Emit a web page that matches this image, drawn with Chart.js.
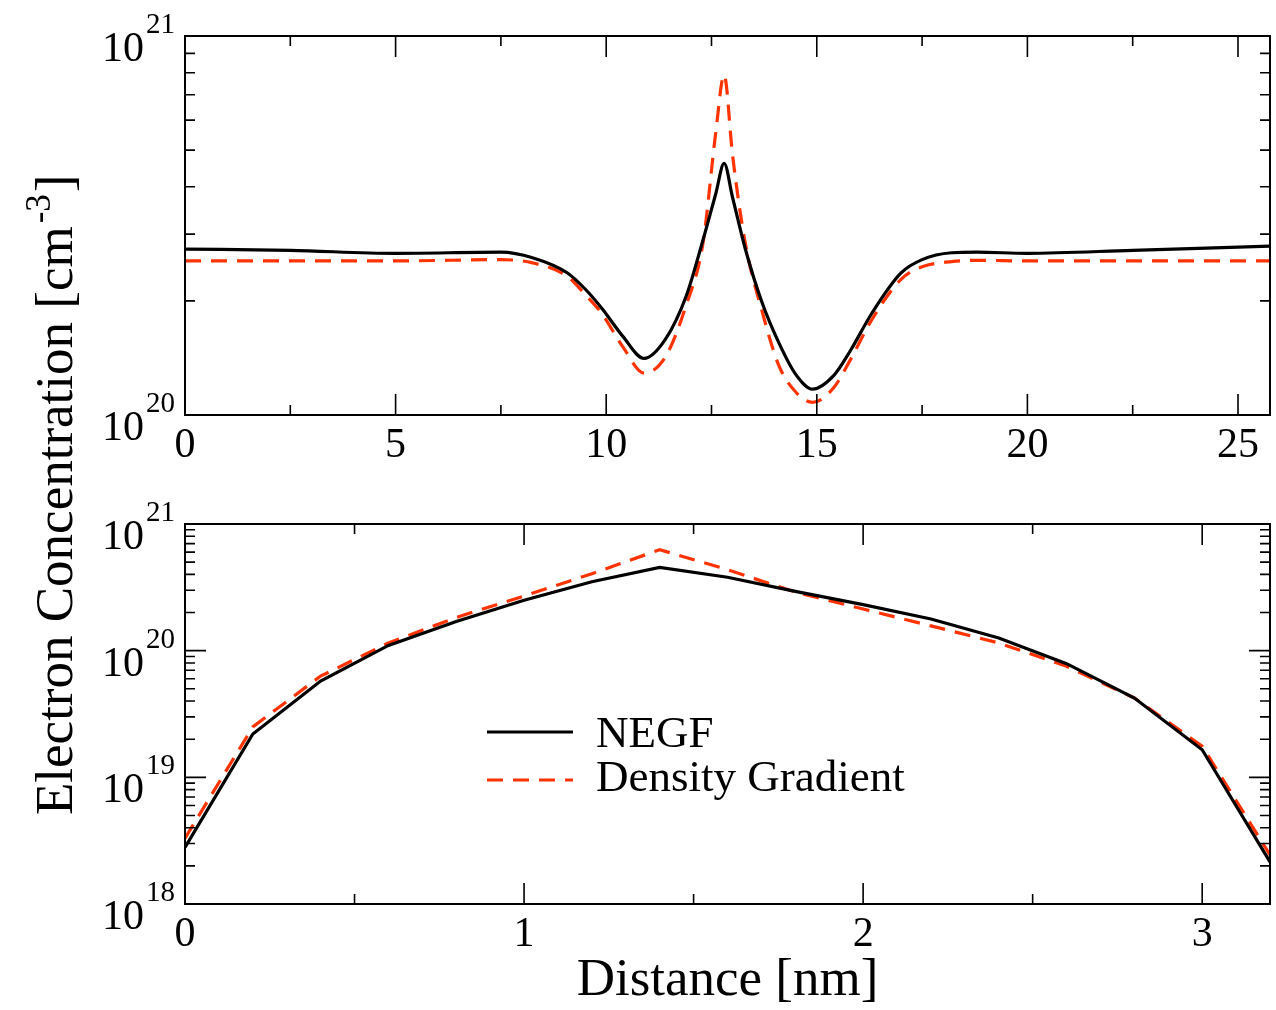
<!DOCTYPE html>
<html>
<head>
<meta charset="utf-8">
<script src="https://cdn.jsdelivr.net/npm/chart.js@4.4.1/dist/chart.umd.min.js"></script>
<style>
  html, body { margin: 0; padding: 0; background: #fff; }
  #wrap { position: relative; width: 1276px; height: 1010px; }
  canvas { position: absolute; left: 0; top: 0; }
</style>
</head>
<body>
<div id="wrap">
  <canvas id="topChart" width="1276" height="1010"></canvas>
  <canvas id="bottomChart" width="1276" height="1010"></canvas>
</div>
<script>
// Top panel: long channel, distance in nm
const topDistance = [0, 2.5, 5, 7.5, 8.25, 9.08, 9.5, 9.9, 10.4, 10.9, 11.4, 11.9, 12.3, 12.6, 12.8, 13.0,
  13.3, 13.7, 14.1, 14.5, 14.9, 15.4, 15.8, 16.3, 17.0, 17.5, 18.2, 18.8, 20, 22.5, 25.76];
const topNegf = [2.74e20, 2.72e20, 2.67e20, 2.69e20, 2.60e20, 2.37e20, 2.15e20, 1.91e20, 1.61e20, 1.41e20,
  1.58e20, 2.06e20, 2.9e20, 3.83e20, 4.61e20, 3.75e20, 2.75e20, 1.98e20, 1.55e20, 1.28e20, 1.17e20,
  1.27e20, 1.48e20, 1.85e20, 2.37e20, 2.57e20, 2.68e20, 2.69e20, 2.67e20, 2.72e20, 2.79e20];
const topDg = [2.55e20, 2.55e20, 2.55e20, 2.57e20, 2.52e20, 2.32e20, 2.08e20, 1.85e20, 1.51e20, 1.29e20,
  1.42e20, 1.95e20, 2.85e20, 5.55e20, 7.89e20, 4.85e20, 2.85e20, 1.88e20, 1.35e20, 1.15e20, 1.08e20,
  1.18e20, 1.40e20, 1.78e20, 2.28e20, 2.46e20, 2.54e20, 2.56e20, 2.55e20, 2.55e20, 2.55e20];

// Bottom panel: cross section
const bottomDistance = [0, 0.2, 0.4, 0.6, 0.8, 1.0, 1.2, 1.4, 1.6, 1.8, 2.0, 2.2, 2.4, 2.6, 2.8, 3.0, 3.2];
const bottomNegf = [2.8e18, 2.2e19, 5.75e19, 1.1e20, 1.7e20, 2.5e20, 3.5e20, 4.55e20, 3.8e20, 2.94e20,
  2.31e20, 1.78e20, 1.26e20, 7.9e19, 4.23e19, 1.65e19, 2.15e18];
const bottomDg = [3.3e18, 2.5e19, 6.3e19, 1.15e20, 1.83e20, 2.7e20, 4.05e20, 6.27e20, 4.36e20, 2.9e20,
  2.13e20, 1.57e20, 1.15e20, 7.52e19, 4.23e19, 1.76e19, 2.44e18];

// Tick labels
const topXTicks = [0, 5, 10, 15, 20, 25];
const topXMinor = [2.5, 7.5, 12.5, 17.5, 22.5];
const topYExp = [20, 21];
const bottomXTicks = [0, 1, 2, 3];
const bottomXMinor = [0.5, 1.5, 2.5];
const bottomYExp = [18, 19, 20, 21];

const seriesNames = ["NEGF", "Density Gradient"];
const red = "#ff3300";
const serif = '"Liberation Serif", "Times New Roman", serif';

const toPoints = (xs, ys) => xs.map((x, i) => ({ x: x, y: ys[i] }));

// frame, inward ticks and 10^n labels
const framePlugin = {
  id: "frame",
  afterDatasetsDraw(chart, args, opts) {
    const { ctx, chartArea: a } = chart;
    const x = chart.scales.x, y = chart.scales.y;
    ctx.save();
    ctx.strokeStyle = "#000";
    ctx.lineWidth = 2;
    ctx.strokeRect(a.left, a.top, a.right - a.left, a.bottom - a.top);

    ctx.lineWidth = 1.6;
    ctx.beginPath();
    const vTick = (v, len) => {
      const p = x.getPixelForValue(v);
      ctx.moveTo(p, a.bottom); ctx.lineTo(p, a.bottom - len);
      ctx.moveTo(p, a.top); ctx.lineTo(p, a.top + len);
    };
    const hTick = (v, len) => {
      const p = y.getPixelForValue(v);
      ctx.moveTo(a.left, p); ctx.lineTo(a.left + len, p);
      ctx.moveTo(a.right, p); ctx.lineTo(a.right - len, p);
    };
    opts.xMajor.forEach(v => vTick(v, 21));
    opts.xMinor.forEach(v => vTick(v, 10));
    opts.yExp.forEach(e => hTick(Math.pow(10, e), 21));
    for (let e = opts.yExp[0]; e < opts.yExp[opts.yExp.length - 1]; e++) {
      for (let m = 2; m < 10; m++) hTick(m * Math.pow(10, e), 10);
    }
    ctx.stroke();

    ctx.fillStyle = "#000";
    ctx.textBaseline = "alphabetic";
    ctx.textAlign = "center";
    ctx.font = "42px " + serif;
    opts.xMajor.forEach(v => ctx.fillText(String(v), x.getPixelForValue(v), a.bottom + 42));

    ctx.textAlign = "right";
    opts.yExp.forEach(e => {
      const p = y.getPixelForValue(Math.pow(10, e));
      ctx.font = "29px " + serif;
      const sup = String(e);
      const sw = ctx.measureText(sup).width;
      ctx.fillText(sup, a.left - 10, p - 3);
      ctx.font = "42px " + serif;
      ctx.fillText("10", a.left - 12 - sw, p + 25);
    });
    ctx.restore();
  }
};

// axis titles and legend for the whole figure
const titlePlugin = {
  id: "titles",
  afterDraw(chart) {
    const ctx = chart.ctx;
    ctx.save();
    ctx.fillStyle = "#000";
    ctx.textBaseline = "alphabetic";

    ctx.textAlign = "center";
    ctx.font = "53px " + serif;
    ctx.fillText("Distance [nm]", (chart.chartArea.left + chart.chartArea.right) / 2, 995);

    ctx.save();
    ctx.translate(72, 815);
    ctx.rotate(-Math.PI / 2);
    ctx.textAlign = "left";
    ctx.font = "53px " + serif;
    const main = "Electron Concentration [cm";
    let w = ctx.measureText(main).width;
    ctx.fillText(main, 0, 0);
    ctx.font = "35px " + serif;
    ctx.fillText("-3", w + 3, -22);
    w += 5 + ctx.measureText("-3").width;
    ctx.font = "53px " + serif;
    ctx.fillText("]", w, 0);
    ctx.restore();

    // legend
    const rows = [{ ly: 732, ty: 747 }, { ly: 780, ty: 791 }];
    chart.data.datasets.forEach((ds, i) => {
      ctx.beginPath();
      ctx.strokeStyle = ds.borderColor;
      ctx.lineWidth = ds.borderWidth;
      ctx.setLineDash(ds.borderDash || []);
      ctx.moveTo(487, rows[i].ly);
      ctx.lineTo(573, rows[i].ly);
      ctx.stroke();
      ctx.setLineDash([]);
      ctx.textAlign = "left";
      ctx.font = "45px " + serif;
      ctx.fillText(ds.label, 596, rows[i].ty);
    });
    ctx.restore();
  }
};

function makeDatasets(xs, a, b, curve) {
  return [
    {
      label: seriesNames[0], data: toPoints(xs, a),
      borderColor: "#000", borderWidth: 3.2, pointRadius: 0,
      cubicInterpolationMode: curve ? "monotone" : "default", tension: 0
    },
    {
      label: seriesNames[1], data: toPoints(xs, b),
      borderColor: red, borderWidth: 3.2, borderDash: [16, 10], pointRadius: 0,
      cubicInterpolationMode: curve ? "monotone" : "default", tension: 0
    }
  ];
}

function baseOptions(pad, xMax, yMin, xMajor, xMinor, yExp) {
  return {
    responsive: false,
    animation: false,
    layout: { padding: pad },
    plugins: {
      legend: { display: false },
      tooltip: { enabled: false },
      frame: { xMajor: xMajor, xMinor: xMinor, yExp: yExp }
    },
    scales: {
      x: { type: "linear", min: 0, max: xMax, display: false },
      y: { type: "logarithmic", min: yMin, max: 1e21, display: false }
    }
  };
}

new Chart(document.getElementById("topChart"), {
  type: "line",
  data: { datasets: makeDatasets(topDistance, topNegf, topDg, true) },
  options: baseOptions({ left: 185, right: 6, top: 36, bottom: 595 }, 25.76, 1e20, topXTicks, topXMinor, topYExp),
  plugins: [framePlugin]
});

new Chart(document.getElementById("bottomChart"), {
  type: "line",
  data: { datasets: makeDatasets(bottomDistance, bottomNegf, bottomDg, false) },
  options: baseOptions({ left: 185, right: 6, top: 524, bottom: 106 }, 3.2, 1e18, bottomXTicks, bottomXMinor, bottomYExp),
  plugins: [framePlugin, titlePlugin]
});
</script>
</body>
</html>
